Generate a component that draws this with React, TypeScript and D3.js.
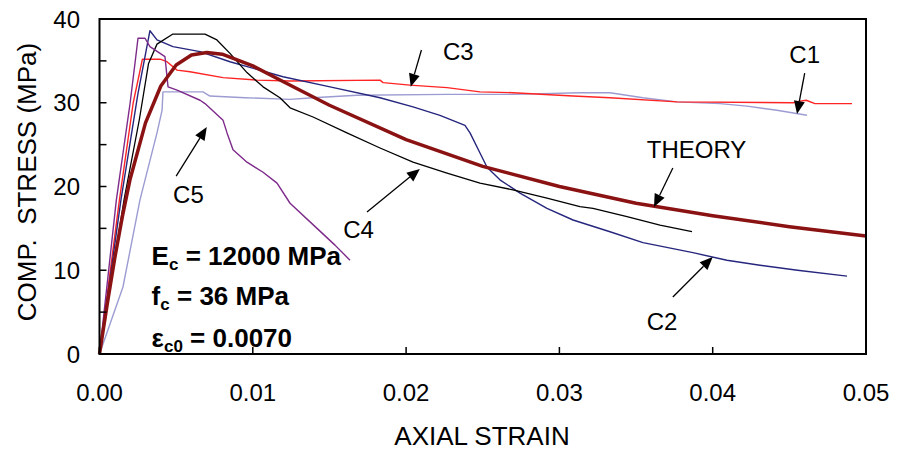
import React from "react";
import * as d3 from "d3";

// ---- data (strain, stress MPa) ----
const c1Strain = [0, 0.00153, 0.00264, 0.00375, 0.00408, 0.00414, 0.0055, 0.00675, 0.0072, 0.0095, 0.01243, 0.01393, 0.0168, 0.02267, 0.02697, 0.03134, 0.0333, 0.03545, 0.03767, 0.04048, 0.04224, 0.04419, 0.04615];
const c1Stress = [0, 8.0, 18.4, 26.4, 29.1, 31.3, 31.3, 31.3, 30.8, 30.6, 30.4, 30.6, 30.9, 31.0, 31.0, 31.2, 31.2, 30.6, 30.1, 29.9, 29.6, 29.1, 28.5];

const c2Strain = [0, 0.0014, 0.0025, 0.00329, 0.00375, 0.00479, 0.00656, 0.00851, 0.01197, 0.01504, 0.0183, 0.02045, 0.02221, 0.02384, 0.02417, 0.02482, 0.02528, 0.02612, 0.02743, 0.02919, 0.03089, 0.0333, 0.03545, 0.03871, 0.04093, 0.04308, 0.04553, 0.04876];
const c2Stress = [0, 18.4, 31.0, 38.6, 37.5, 36.7, 36.1, 34.9, 33.1, 31.9, 30.6, 29.5, 28.5, 27.3, 26.4, 24.0, 22.3, 20.8, 19.2, 17.4, 16.0, 14.6, 13.3, 12.1, 11.2, 10.6, 10.0, 9.3];

const c3Strain = [0, 0.0013, 0.0022, 0.0028, 0.00395, 0.0044, 0.00506, 0.0059, 0.00806, 0.01027, 0.01243, 0.0183, 0.0185, 0.02025, 0.02267, 0.02482, 0.02697, 0.03089, 0.0333, 0.03767, 0.04524, 0.0457, 0.0461, 0.04667, 0.04909];
const c3Stress = [0, 18.4, 30.0, 35.2, 35.2, 34.9, 33.9, 33.7, 33.0, 32.7, 32.6, 32.7, 32.4, 32.1, 31.8, 31.3, 31.2, 30.8, 30.6, 30.1, 30.0, 30.2, 30.3, 29.9, 29.9];

const c4Strain = [0, 0.0016, 0.0026, 0.0032, 0.00375, 0.00479, 0.00688, 0.00766, 0.00851, 0.00962, 0.01067, 0.01177, 0.01243, 0.01393, 0.01614, 0.0183, 0.02045, 0.02267, 0.02482, 0.02697, 0.02919, 0.03134, 0.03219, 0.03441, 0.03656, 0.03865];
const c4Stress = [0, 18.4, 28.0, 34.7, 37.0, 38.2, 38.2, 37.5, 35.9, 33.6, 31.9, 30.6, 29.4, 28.3, 26.4, 24.6, 22.9, 21.6, 20.4, 19.6, 18.6, 17.6, 17.4, 16.4, 15.4, 14.6];

const c5Strain = [0, 0.0011, 0.002, 0.0024, 0.00251, 0.00297, 0.00329, 0.00427, 0.00447, 0.00506, 0.00656, 0.00688, 0.00806, 0.00832, 0.00871, 0.00962, 0.01067, 0.01158, 0.01243, 0.01419, 0.01536, 0.01634];
const c5Stress = [0, 18.4, 30.0, 36.0, 37.7, 37.7, 36.7, 35.5, 31.9, 31.5, 30.3, 29.9, 27.9, 26.4, 24.4, 22.9, 21.7, 20.4, 18.0, 15.0, 13.0, 11.2];

const theoryStrain = [0, 0.0005, 0.001, 0.0015, 0.002, 0.003, 0.004, 0.005, 0.006, 0.007, 0.008, 0.01, 0.012, 0.015, 0.02, 0.025, 0.03, 0.035, 0.04, 0.045, 0.05];
const theoryStress = [0, 5.9, 11.5, 16.5, 20.9, 27.6, 32.0, 34.5, 35.7, 36.0, 35.8, 34.4, 32.5, 29.7, 25.6, 22.4, 20.0, 18.0, 16.5, 15.2, 14.1];

const xTicks = [0, 0.01, 0.02, 0.03, 0.04, 0.05];
const xTickLabels = ["0.00", "0.01", "0.02", "0.03", "0.04", "0.05"];
const yTicks = [0, 5, 10, 15, 20, 25, 30, 35, 40];
const yTickLabels = [0, 10, 20, 30, 40];

// label annotations: text anchor, arrow tail, arrow tip (data units)
const labelNames = ["C1", "C2", "C3", "C4", "C5", "THEORY"];
const labelAt = [[0.045, 34.75], [0.0357, 2.87], [0.0224, 35.1], [0.0159, 13.85], [0.0048, 18.03], [0.0357, 23.4]];
const arrowFrom = [[0.046, 33.55], [0.0374, 6.8], [0.021, 36.3], [0.01745, 16.96], [0.005, 21.25], [0.0374, 22.2]];
const arrowTo = [[0.0455, 28.66], [0.04, 11.58], [0.0203, 31.9], [0.0209, 22.1], [0.007, 27.1], [0.03617, 17.55]];

const W = 897;
const H = 453;
const FONT = "'Liberation Sans', Arial, Helvetica, sans-serif";

export default function App() {
  const x = d3.scaleLinear().domain([0, 0.05]).range([99.5, 866]);
  const y = d3.scaleLinear().domain([0, 40]).range([354, 19]);

  const line = d3
    .line<[number, number]>()
    .x((d) => x(d[0]))
    .y((d) => y(d[1]));

  const mk = (s: number[], v: number[]) => s.map((e, i) => [e, v[i]] as [number, number]);

  const series = [
    { d: mk(c1Strain, c1Stress), color: "#9c9cd2", w: 1.4 },
    { d: mk(c3Strain, c3Stress), color: "#ff2424", w: 1.4 },
    { d: mk(c2Strain, c2Stress), color: "#26267e", w: 1.4 },
    { d: mk(c4Strain, c4Stress), color: "#000000", w: 1.3 },
    { d: mk(c5Strain, c5Stress), color: "#7d2a8a", w: 1.4 },
    { d: mk(theoryStrain, theoryStress), color: "#8b1212", w: 3.5 },
  ];

  const arrows = labelNames.map((name, i) => {
    const x1 = x(arrowFrom[i][0]);
    const y1 = y(arrowFrom[i][1]);
    const x2 = x(arrowTo[i][0]);
    const y2 = y(arrowTo[i][1]);
    const ang = Math.atan2(y2 - y1, x2 - x1);
    const L = 13;
    const hw = 5.5;
    const bx = x2 - L * Math.cos(ang);
    const by = y2 - L * Math.sin(ang);
    const px = -Math.sin(ang) * hw;
    const py = Math.cos(ang) * hw;
    return (
      <g key={name}>
        <line x1={x1} y1={y1} x2={bx} y2={by} stroke="#000" strokeWidth={1.3} />
        <polygon points={`${x2},${y2} ${bx + px},${by + py} ${bx - px},${by - py}`} fill="#000" />
        <text x={x(labelAt[i][0])} y={y(labelAt[i][1])} fontSize={24} fontFamily={FONT} fill="#000">
          {name}
        </text>
      </g>
    );
  });

  const [x0, x1] = x.range();
  const [y0, y1] = y.range();

  return (
    <svg width={W} height={H} style={{ position: "absolute", left: 0, top: 0, background: "#fff" }}>
      <rect width={W} height={H} fill="#fff" />
      {series.map((s, i) => (
        <path key={i} d={line(s.d) || ""} fill="none" stroke={s.color} strokeWidth={s.w} strokeLinejoin="round" />
      ))}
      {/* frame */}
      <rect x={x0} y={y1} width={x1 - x0} height={y0 - y1} fill="none" stroke="#000" strokeWidth={2} />
      {/* y ticks */}
      {yTicks.map((t) => (
        <line key={t} x1={x0} x2={x0 + 7} y1={y(t)} y2={y(t)} stroke="#000" strokeWidth={1.5} />
      ))}
      {yTickLabels.map((t) => (
        <text key={t} x={80} y={y(t) + 8.5} textAnchor="end" fontSize={24} fontFamily={FONT}>
          {t}
        </text>
      ))}
      {/* x ticks */}
      {xTicks.map((t) => (
        <line key={t} x1={x(t)} x2={x(t)} y1={y0} y2={y0 - 7} stroke="#000" strokeWidth={1.5} />
      ))}
      {xTicks.map((t, i) => (
        <text key={t} x={x(t)} y={401} textAnchor="middle" fontSize={24} fontFamily={FONT}>
          {xTickLabels[i]}
        </text>
      ))}
      {/* axis titles */}
      <text x={482} y={445} textAnchor="middle" fontSize={26} fontFamily={FONT}>
        AXIAL STRAIN
      </text>
      <text
        transform="translate(36,182) rotate(-90)"
        textAnchor="middle"
        fontSize={26}
        fontFamily={FONT}
        style={{ whiteSpace: "pre" }}
      >
        {"COMP.  STRESS (MPa)"}
      </text>
      {arrows}
      {/* parameter box */}
      <g fontFamily={FONT} fontWeight="bold" fontSize={26}>
        <text x={x(0.0034)} y={y(10.63)}>
          E<tspan fontSize={17} dy={5}>c</tspan>
          <tspan dy={-5}> = 12000 MPa</tspan>
        </text>
        <text x={x(0.0034)} y={y(5.85)}>
          f<tspan fontSize={17} dy={5}>c</tspan>
          <tspan dy={-5}> = 36 MPa</tspan>
        </text>
        <text x={x(0.0034)} y={y(0.84)}>
          ε<tspan fontSize={17} dy={5}>c0</tspan>
          <tspan dy={-5}> = 0.0070</tspan>
        </text>
      </g>
    </svg>
  );
}
